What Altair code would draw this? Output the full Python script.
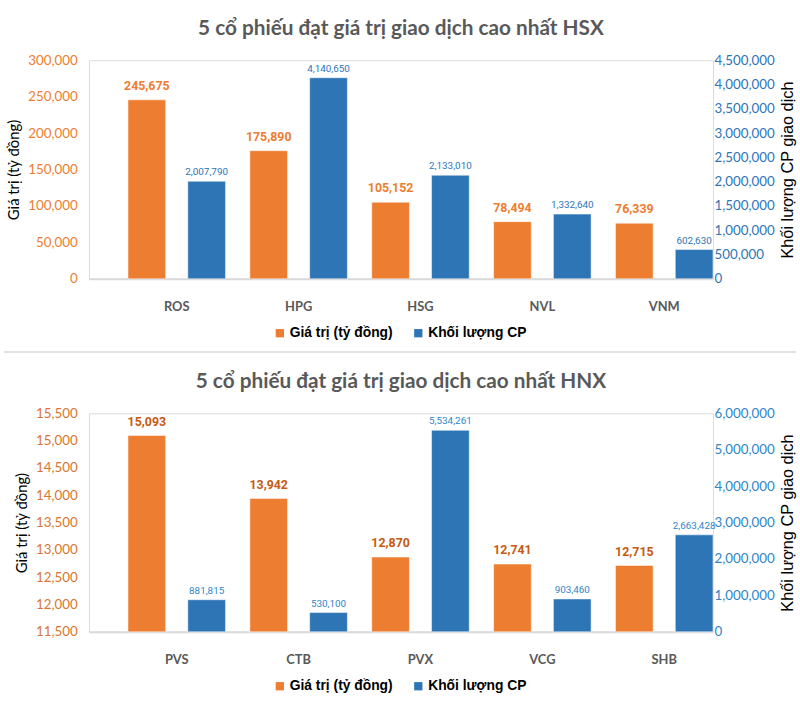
import altair as alt
import pandas as pd

# ---- data ----
hsx_codes = ["ROS", "HPG", "HSG", "NVL", "VNM"]
hsx_value = [245675, 175890, 105152, 78494, 76339]
hsx_volume = [2007790, 4140650, 2133010, 1332640, 602630]

hnx_codes = ["PVS", "CTB", "PVX", "VCG", "SHB"]
hnx_value = [15093, 13942, 12870, 12741, 12715]
hnx_volume = [881815, 530100, 5534261, 903460, 2663428]

hsx_title = "5 cổ phiếu đạt giá trị giao dịch cao nhất HSX"
hnx_title = "5 cổ phiếu đạt giá trị giao dịch cao nhất HNX"

S_VAL = "Giá trị (tỷ đồng)"
S_VOL = "Khối lượng CP"
LEFT_TITLE = "Giá trị (tỷ đồng)"
RIGHT_TITLE = "Khối lượng CP giao dịch"

ORANGE = "#ED7D31"
BLUE = "#2E75B6"
LBL_FONT = "Roboto"
PLOT_H = 221


def panel(codes, vals, vols, title, ldom, lvals, rdom, rvals,
          lcol, lbl_col, rcol, w, separator=False):
    df = pd.DataFrame({
        "code": codes * 2,
        "series": [S_VAL] * len(codes) + [S_VOL] * len(codes),
        "v": vals + vols,
    })
    base = alt.Chart(df)
    x = alt.X("code:N", sort=codes, title=None,
              scale=alt.Scale(paddingInner=0.2, paddingOuter=0.16, align=1),
              axis=alt.Axis(labelAngle=0, labelFont="Lato", labelFontSize=13,
                            labelFontWeight="bold", labelColor="#595959",
                            labelPadding=22, ticks=False, domainColor="#D9D9D9",
                            domainWidth=2))
    xo = alt.XOffset("series:N", scale=alt.Scale(domain=[S_VAL, S_VOL],
                                                  paddingInner=0.37, paddingOuter=0))
    color = alt.Color("series:N",
                      scale=alt.Scale(domain=[S_VAL, S_VOL], range=[ORANGE, BLUE]),
                      legend=alt.Legend(title=None, orient="none", direction="horizontal",
                                        legendX=186, legendY=269,
                                        symbolType="square", symbolSize=70,
                                        symbolStrokeWidth=0, symbolOpacity=1,
                                        labelFont="Liberation Sans", labelFontSize=14,
                                        labelFontWeight="bold", labelColor="#000000",
                                        columnPadding=18, labelOffset=3))
    laxis = alt.Axis(values=lvals, format=",d", title=LEFT_TITLE, grid=False,
                     domain=False, ticks=False, labelColor=lcol, labelFont="Lato",
                     labelFontSize=13.5, labelPadding=12, titleFont="Lato",
                     titleFontSize=15, titleFontWeight="normal", titleColor="#000000",
                     titlePadding=6)
    raxis = alt.Axis(values=rvals, format=",d", title=RIGHT_TITLE, grid=False,
                     orient="right", domain=False, ticks=False, labelColor=rcol,
                     labelFont="Lato", labelFontSize=13.5, labelPadding=1,
                     titleFont="Liberation Sans", titleFontSize=16.5,
                     titleFontWeight="normal", titleColor="#000000",
                     titleAngle=270, titleBaseline="top", titlePadding=5)
    yl = alt.Y("v:Q", scale=alt.Scale(domain=ldom, zero=False, nice=False), axis=laxis)
    yr = alt.Y("v:Q", scale=alt.Scale(domain=rdom, zero=False, nice=False), axis=raxis)

    lbar = base.transform_filter(alt.datum.series == S_VAL).mark_bar(
        stroke="white", strokeWidth=0.5).encode(
        x=x, xOffset=xo, y=yl, y2=alt.datum(ldom[0]), color=color)
    ltxt = base.transform_filter(alt.datum.series == S_VAL).mark_text(
        dy=-14, font=LBL_FONT, fontSize=12.5, fontWeight="bold", color=lbl_col).encode(
        x=x, xOffset=xo, y=yl, text=alt.Text("v:Q", format=",d"))
    rbar = base.transform_filter(alt.datum.series == S_VOL).mark_bar(
        stroke="white", strokeWidth=0.5).encode(
        x=x, xOffset=xo, y=yr, y2=alt.datum(rdom[0]), color=color)
    rtxt = base.transform_filter(alt.datum.series == S_VOL).mark_text(
        dy=-9, font=LBL_FONT, fontSize=10, color=rcol).encode(
        x=x, xOffset=xo, y=yr, text=alt.Text("v:Q", format=",d"))

    layers = [alt.layer(lbar, ltxt), alt.layer(rbar, rtxt)]
    if separator:
        # light grey divider between the two chart boxes
        sep = alt.Chart(pd.DataFrame({"s": [0]})).mark_rule(
            color="#E3E3E3", strokeWidth=2).encode(
            x=alt.value(-86), x2=alt.value(w + 84), y=alt.value(PLOT_H + 74))
        layers.append(sep)
    return alt.layer(*layers).resolve_scale(y="independent").properties(
        width=w, height=PLOT_H,
        title=alt.TitleParams(title, font="Lato", fontSize=21, fontWeight="bold",
                              color="#595959", anchor="middle", offset=15))


top = panel(hsx_codes, hsx_value, hsx_volume, hsx_title,
            [0, 300000], list(range(0, 300001, 50000)),
            [0, 4500000], list(range(0, 4500001, 500000)),
            ORANGE, ORANGE, BLUE, 631, separator=True)
bottom = panel(hnx_codes, hnx_value, hnx_volume, hnx_title,
               [11500, 15500], list(range(11500, 15501, 500)),
               [0, 6000000], list(range(0, 6000001, 1000000)),
               "#D9752F", "#C55A11", "#2E86C8", 631)

chart = alt.vconcat(top, bottom, spacing=16).resolve_scale(
    color="independent", x="independent", xOffset="independent"
).configure_view(stroke=None).configure(
    background="white", padding={"left": 2, "top": 13, "right": 2, "bottom": 5})

chart.save("out.html", embed_options={"renderer": "svg", "actions": False})
